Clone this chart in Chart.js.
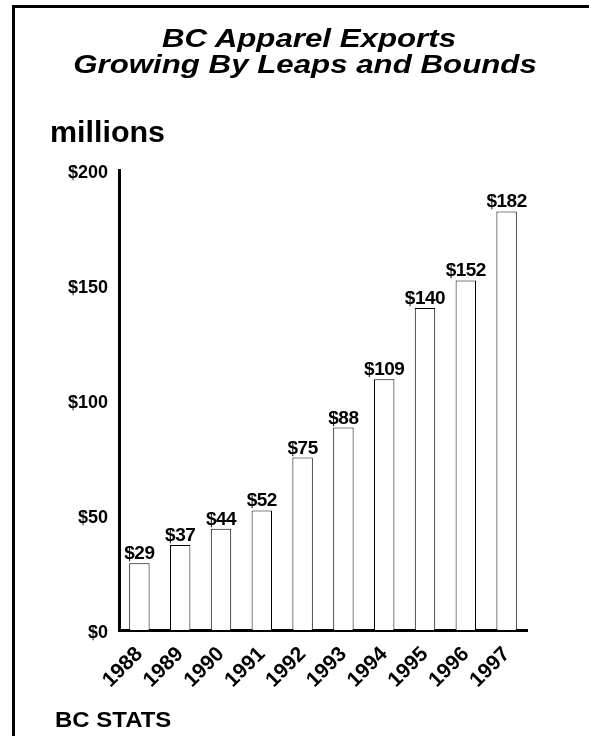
<!DOCTYPE html>
<html>
<head>
<meta charset="utf-8">
<script src="https://cdn.jsdelivr.net/npm/chart.js@4/dist/chart.umd.min.js"></script>
<style>
html,body{margin:0;padding:0;background:#fff;width:589px;height:736px;overflow:hidden;}
#frame{position:absolute;left:12px;top:5px;width:700px;height:800px;border-top:3px solid #000;border-left:3px solid #000;box-sizing:border-box;}
canvas{position:absolute;left:0;top:0;}
.t{position:absolute;white-space:nowrap;font-family:"Liberation Sans",Arial,sans-serif;font-weight:bold;color:#000;z-index:2;}
.title{font-style:italic;font-size:25px;line-height:25px;transform:translateX(-50%) scaleX(1.25);transform-origin:50% 50%;}
#title1{left:309px;top:26px;}
#title2{left:305px;top:52px;}
#units{left:50px;top:118px;font-size:29px;line-height:29px;transform:scaleX(1.05);transform-origin:0 50%;}
#source{left:55px;top:709px;font-size:22px;line-height:22px;transform:scaleX(1.09);transform-origin:0 50%;}
</style>
</head>
<body>
<div id="frame"></div>
<canvas id="c" width="589" height="736"></canvas>
<div class="t title" id="title1">BC Apparel Exports</div>
<div class="t title" id="title2">Growing By Leaps and Bounds</div>
<div class="t" id="units">millions</div>
<div class="t" id="source">BC STATS</div>
<script>
const years = ['1988','1989','1990','1991','1992','1993','1994','1995','1996','1997'];
const exportsMillions = [29, 37, 44, 52, 75, 88, 109, 140, 152, 182];
const yTickValues = [0, 50, 100, 150, 200];

const valueLabels = {
  id: 'valueLabels',
  afterDatasetsDraw(chart) {
    const ctx = chart.ctx;
    const meta = chart.getDatasetMeta(0);
    ctx.save();
    ctx.font = 'bold 19px "Liberation Sans", Arial, sans-serif';
    if ('letterSpacing' in ctx) ctx.letterSpacing = '-0.5px';
    ctx.fillStyle = '#000';
    ctx.textAlign = 'center';
    ctx.textBaseline = 'alphabetic';
    meta.data.forEach((bar, i) => {
      ctx.fillText('$' + exportsMillions[i], bar.x, bar.y - 4);
    });
    ctx.restore();
  }
};

new Chart(document.getElementById('c'), {
  type: 'bar',
  data: {
    labels: years,
    datasets: [{
      data: exportsMillions,
      backgroundColor: '#ffffff',
      borderColor: '#000000',
      borderWidth: 1,
      categoryPercentage: 1,
      barPercentage: 0.5
    }]
  },
  options: {
    responsive: false,
    animation: false,
    devicePixelRatio: 1,
    layout: { padding: { left: 0, top: 170, right: 62, bottom: 26 } },
    plugins: { legend: { display: false }, tooltip: { enabled: false } },
    scales: {
      x: {
        grid: { display: false, drawTicks: false },
        border: { display: true, width: 3, color: '#000' },
        ticks: {
          color: '#000',
          font: { family: '"Liberation Sans", Arial, sans-serif', weight: 'bold', size: 21 },
          minRotation: 45, maxRotation: 45,
          padding: 12,
          autoSkip: false
        },
        afterFit(s) { s.height = 80; }
      },
      y: {
        min: 0, max: 200,
        afterBuildTicks(s) { s.ticks = yTickValues.map(v => ({ value: v })); },
        grid: { display: false, drawTicks: false },
        border: { display: true, width: 3, color: '#000' },
        ticks: {
          color: '#000',
          font: { family: '"Liberation Sans", Arial, sans-serif', weight: 'bold', size: 18 },
          padding: 11,
          labelOffset: 3,
          callback: v => '$' + v
        },
        afterFit(s) { s.width = 119; }
      }
    }
  },
  plugins: [valueLabels]
});
</script>
</body>
</html>
